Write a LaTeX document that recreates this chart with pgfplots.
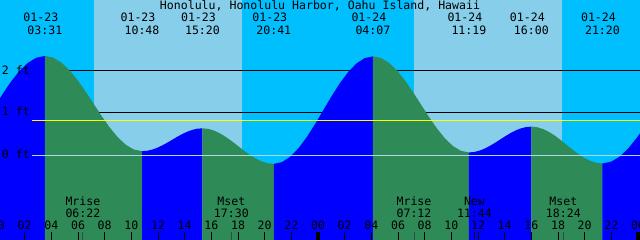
\documentclass[border=0pt]{standalone}
\usepackage{pgfplots}
\pgfplotsset{compat=1.18}
\usepackage{fontspec}
\setmonofont{DejaVu Sans Mono}
\definecolor{night}{HTML}{00BFFF}
\definecolor{day}{HTML}{87CEEB}
\definecolor{rise}{HTML}{0000FF}
\definecolor{fall}{HTML}{2E8B57}
\definecolor{zero}{HTML}{ADD8E6}
\definecolor{yel}{HTML}{FFFF00}
\definecolor{moontick}{HTML}{2F4F3F}
\begin{document}
\begin{tikzpicture}[every node/.style={font=\ttfamily\fontsize{11.6}{13}\selectfont, inner sep=0pt, text=black}]
\begin{axis}[
  scale only axis, width=640bp, height=240bp,
  xmin=0.15, xmax=48.15, ymin=-2.007, ymax=3.660,
  axis line style={draw=none},
  axis background/.style={fill=night},
  axis on top,
  xtick={0,2,...,48}, xticklabels={},
  ytick=\empty,
  major tick length=8.3bp, tick align=inside, xtick pos=left,
  tick style={black, line width=1bp},
  extra x ticks={24,48}, extra x tick labels={},
  extra x tick style={tick style={black, line width=3.2bp}},
  clip=true,
]
% daylight
\addplot[fill=day, draw=none] coordinates {(7.2,-3) (7.2,4) (18.28,4) (18.28,-3)};
\addplot[fill=day, draw=none] coordinates {(31.2,-3) (31.2,4) (42.28,4) (42.28,-3)};
% reference lines behind the water
\addplot[black, line width=1bp] coordinates {(2.55,2) (48.5,2)};
\addplot[black, line width=1bp] coordinates {(2.55,1) (48.5,1)};
% tide
\addplot[fill=rise, draw=none] coordinates {(-0.392,-3) (-0.392,1.07) (0.260,1.399) (0.911,1.705) (1.563,1.968) (2.214,2.170) (2.866,2.297) (3.517,2.34) (3.517,-3)};
\addplot[fill=fall, draw=none] coordinates {(3.517,-3) (3.517,2.34) (4.124,2.302) (4.731,2.189) (5.338,2.010) (5.945,1.778) (6.552,1.506) (7.159,1.215) (7.765,0.924) (8.372,0.653) (8.979,0.420) (9.586,0.241) (10.193,0.128) (10.8,0.09) (10.8,-3)};
\addplot[fill=rise, draw=none] coordinates {(10.8,-3) (10.8,0.09) (11.178,0.099) (11.556,0.126) (11.933,0.169) (12.311,0.225) (12.689,0.290) (13.067,0.36) (13.444,0.430) (13.822,0.495) (14.2,0.551) (14.578,0.594) (14.956,0.621) (15.333,0.63) (15.333,-3)};
\addplot[fill=fall, draw=none] coordinates {(15.333,-3) (15.333,0.63) (15.779,0.616) (16.225,0.574) (16.671,0.507) (17.117,0.42) (17.563,0.319) (18.008,0.21) (18.454,0.101) (18.9,0.0) (19.346,-0.087) (19.792,-0.154) (20.238,-0.196) (20.683,-0.21) (20.683,-3)};
\addplot[fill=rise, draw=none] coordinates {(20.683,-3) (20.683,-0.21) (21.303,-0.167) (21.922,-0.040) (22.542,0.162) (23.161,0.425) (23.781,0.731) (24.4,1.06) (25.02,1.389) (25.639,1.695) (26.259,1.958) (26.878,2.160) (27.498,2.287) (28.117,2.33) (28.117,-3)};
\addplot[fill=fall, draw=none] coordinates {(28.117,-3) (28.117,2.33) (28.717,2.291) (29.317,2.178) (29.917,1.998) (30.517,1.763) (31.117,1.489) (31.717,1.195) (32.317,0.901) (32.917,0.628) (33.517,0.392) (34.117,0.212) (34.717,0.099) (35.317,0.06) (35.317,-3)};
\addplot[fill=rise, draw=none] coordinates {(35.317,-3) (35.317,0.06) (35.707,0.070) (36.097,0.101) (36.488,0.149) (36.878,0.213) (37.268,0.286) (37.658,0.365) (38.049,0.444) (38.439,0.518) (38.829,0.581) (39.219,0.629) (39.61,0.660) (40.0,0.67) (40.0,-3)};
\addplot[fill=fall, draw=none] coordinates {(40.0,-3) (40.0,0.67) (40.444,0.655) (40.889,0.612) (41.333,0.543) (41.778,0.453) (42.222,0.348) (42.667,0.235) (43.111,0.122) (43.556,0.018) (44.0,-0.073) (44.444,-0.142) (44.889,-0.185) (45.333,-0.2) (45.333,-3)};
\addplot[fill=rise, draw=none] coordinates {(45.333,-3) (45.333,-0.2) (45.989,-0.157) (46.644,-0.033) (47.3,0.166) (47.955,0.425) (48.611,0.726) (48.611,-3)};
% lines over the water
\addplot[yel, line width=1bp] coordinates {(2.55,0.82) (48.5,0.82)};
\addplot[zero, line width=1bp] coordinates {(2.55,0) (48.5,0)};
% moon event ticks
\addplot[moontick, line width=1bp] coordinates {(6.367,-2.1) (6.367,-1.81)};
\addplot[moontick, line width=1bp] coordinates {(17.5,-2.1) (17.5,-1.81)};
\addplot[moontick, line width=1bp] coordinates {(31.2,-2.1) (31.2,-1.81)};
\addplot[black, line width=1bp] coordinates {(35.733,-2.1) (35.733,-1.81)};
\addplot[moontick, line width=1bp] coordinates {(42.4,-2.1) (42.4,-1.81)};
% title
\node[anchor=base] at (axis cs:24.15,3.447) {Honolulu, Honolulu Harbor, Oahu Island, Hawaii};
% tide event labels
\node[anchor=base] at (axis cs:3.217,3.148) {01-23};
\node[anchor=base] at (axis cs:3.517,2.857) {03:31};
\node[anchor=base] at (axis cs:10.5,3.148) {01-23};
\node[anchor=base] at (axis cs:10.8,2.857) {10:48};
\node[anchor=base] at (axis cs:15.033,3.148) {01-23};
\node[anchor=base] at (axis cs:15.333,2.857) {15:20};
\node[anchor=base] at (axis cs:20.383,3.148) {01-23};
\node[anchor=base] at (axis cs:20.683,2.857) {20:41};
\node[anchor=base] at (axis cs:27.817,3.148) {01-24};
\node[anchor=base] at (axis cs:28.117,2.857) {04:07};
\node[anchor=base] at (axis cs:35.017,3.148) {01-24};
\node[anchor=base] at (axis cs:35.317,2.857) {11:19};
\node[anchor=base] at (axis cs:39.7,3.148) {01-24};
\node[anchor=base] at (axis cs:40.0,2.857) {16:00};
\node[anchor=base] at (axis cs:45.033,3.148) {01-24};
\node[anchor=base] at (axis cs:45.333,2.857) {21:20};
% height labels
\node[anchor=base west] at (axis cs:0.278,1.905) {2 ft};
\node[anchor=base west] at (axis cs:0.278,0.921) {1 ft};
\node[anchor=base west] at (axis cs:0.278,-0.078) {0 ft};
% moon labels
\node[anchor=base] at (axis cs:6.367,-1.203) {Mrise};
\node[anchor=base] at (axis cs:6.367,-1.476) {06:22};
\node[anchor=base] at (axis cs:17.5,-1.203) {Mset};
\node[anchor=base] at (axis cs:17.5,-1.476) {17:30};
\node[anchor=base] at (axis cs:31.2,-1.203) {Mrise};
\node[anchor=base] at (axis cs:31.2,-1.476) {07:12};
\node[anchor=base] at (axis cs:35.733,-1.203) {New};
\node[anchor=base] at (axis cs:35.733,-1.476) {11:44};
\node[anchor=base] at (axis cs:42.4,-1.203) {Mset};
\node[anchor=base] at (axis cs:42.4,-1.476) {18:24};
% hour labels
\node[anchor=base] at (axis cs:0,-1.754) {00};
\node[anchor=base] at (axis cs:2,-1.754) {02};
\node[anchor=base] at (axis cs:4,-1.754) {04};
\node[anchor=base] at (axis cs:6,-1.754) {06};
\node[anchor=base] at (axis cs:8,-1.754) {08};
\node[anchor=base] at (axis cs:10,-1.754) {10};
\node[anchor=base] at (axis cs:12,-1.754) {12};
\node[anchor=base] at (axis cs:14,-1.754) {14};
\node[anchor=base] at (axis cs:16,-1.754) {16};
\node[anchor=base] at (axis cs:18,-1.754) {18};
\node[anchor=base] at (axis cs:20,-1.754) {20};
\node[anchor=base] at (axis cs:22,-1.754) {22};
\node[anchor=base] at (axis cs:24,-1.754) {00};
\node[anchor=base] at (axis cs:26,-1.754) {02};
\node[anchor=base] at (axis cs:28,-1.754) {04};
\node[anchor=base] at (axis cs:30,-1.754) {06};
\node[anchor=base] at (axis cs:32,-1.754) {08};
\node[anchor=base] at (axis cs:34,-1.754) {10};
\node[anchor=base] at (axis cs:36,-1.754) {12};
\node[anchor=base] at (axis cs:38,-1.754) {14};
\node[anchor=base] at (axis cs:40,-1.754) {16};
\node[anchor=base] at (axis cs:42,-1.754) {18};
\node[anchor=base] at (axis cs:44,-1.754) {20};
\node[anchor=base] at (axis cs:46,-1.754) {22};
\node[anchor=base] at (axis cs:48,-1.754) {00};
\end{axis}
\pgfresetboundingbox
\path[use as bounding box] (current axis.south west) rectangle (current axis.north east);
\end{tikzpicture}
\end{document}
